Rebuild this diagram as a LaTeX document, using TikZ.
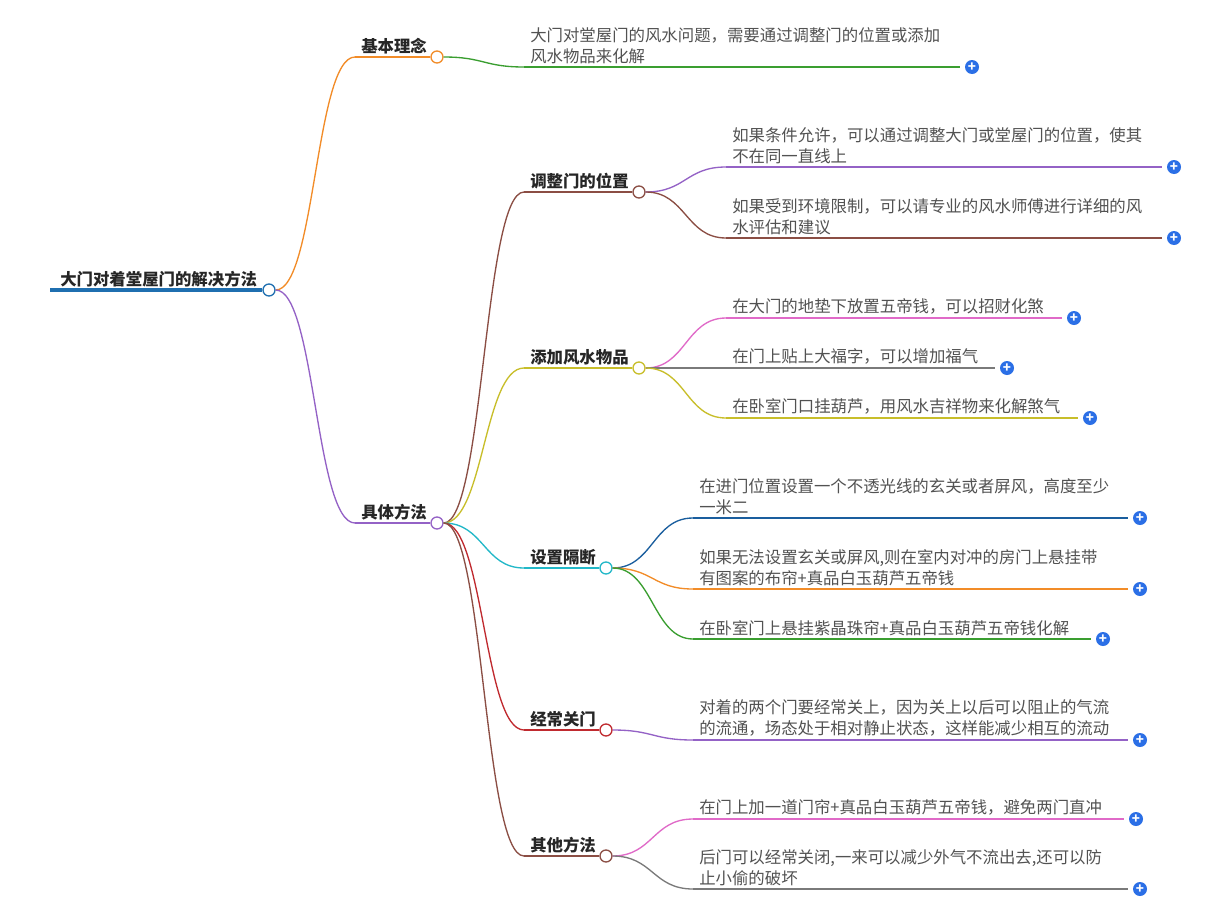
\documentclass[tikz,border=0pt]{standalone}
\usepackage{fontspec}
\setmainfont{Noto Sans CJK SC}
\usetikzlibrary{calc}
\definecolor{cOr}{HTML}{F28C28}\definecolor{cGr}{HTML}{3A9E30}\definecolor{cPu}{HTML}{9462C6}
\definecolor{cBr}{HTML}{8B4E44}\definecolor{cOl}{HTML}{C8BE2A}\definecolor{cCy}{HTML}{22B8C8}
\definecolor{cDb}{HTML}{1A5E9E}\definecolor{cRe}{HTML}{C02A2F}\definecolor{cPk}{HTML}{E06AC8}
\definecolor{cGy}{HTML}{7A7A7A}\definecolor{cRoot}{HTML}{1F6FB0}\definecolor{cPl}{HTML}{2B6FE6}
\tikzset{
 leaftext/.style={anchor=south west,inner sep=0pt,align=left,text=black!68,font=\fontsize{12.3}{15.75}\selectfont},
 maintext/.style={anchor=south west,inner sep=0pt,text=black!85,font=\bfseries\fontsize{12.3}{15.75}\selectfont},
 knob/.style={circle,draw=#1,fill=white,line width=1pt,minimum size=9pt,inner sep=0pt},
 plus/.style={circle,fill=cPl,minimum size=10.5pt,inner sep=0pt,text=white,font=\bfseries\fontsize{10}{10}\selectfont},
 conn/.style={line width=1pt}
}
\newcommand{\curv}[3]{\draw[conn,#1] let \p1=(#2), \p2=(#3) in (\p1) .. controls ({0.5*\x1+0.5*\x2},\y1) and ({0.5*\x1+0.5*\x2},\y2) .. (\p2);}
% id color parent xs y xe text
\newcommand{\leaf}[7]{%
 \coordinate (#1s) at (#4,#5); \coordinate (#1e) at (#6,#5);
 \curv{#2}{#3.east}{#1s}
 \draw[conn,#2] (#1s) -- (#1e);
 \node[leaftext] (#1t) at (#4+6,#5-3) {#7};
 \node[plus] (#1p) at (#6+12,#5) {+};}
% id color parent xs y xc text
\newcommand{\mainb}[7]{%
 \coordinate (#1s) at (#4,#5);
 \curv{#2}{#3.east}{#1s}
 \node[knob=#2] (#1) at (#6,#5) {};
 \draw[conn,#2] (#1s) -- (#1.west);
 \node[maintext] (#1t) at (#4+6,#5-3) {#7};}
\begin{document}
\begin{tikzpicture}[x=0.75pt,y=-0.75pt]
\useasboundingbox (0,0) rectangle (1213,914);
\fill[white] (0,0) rectangle (1213,914);
\node[knob=cRoot] (root) at (269,290) {};
\coordinate (rs) at (50,290);
\draw[cRoot,line width=2.5pt] (rs) -- (root.west);
\node[maintext] (roott) at (60,287) {大门对着堂屋门的解决方法};
\mainb{a}{cOr}{root}{355}{57}{437}{基本理念}
\mainb{b}{cPu}{root}{355}{523}{437}{具体方法}
\leaf{a1}{cGr}{a}{524}{67}{960}{大门对堂屋门的风水问题，需要通过调整门的位置或添加\\风水物品来化解}
\mainb{c}{cBr}{b}{524}{192}{639}{调整门的位置}
\mainb{d}{cOl}{b}{524}{368}{639}{添加风水物品}
\mainb{e}{cCy}{b}{524}{568}{606}{设置隔断}
\mainb{f}{cRe}{b}{524}{730}{606}{经常关门}
\mainb{g}{cBr}{b}{524}{856}{606}{其他方法}
\leaf{c1}{cPu}{c}{726}{167}{1162}{如果条件允许，可以通过调整大门或堂屋门的位置，使其\\不在同一直线上}
\leaf{c2}{cBr}{c}{726}{238}{1162}{如果受到环境限制，可以请专业的风水师傅进行详细的风\\水评估和建议}
\leaf{d1}{cPk}{d}{726}{318}{1062}{在大门的地垫下放置五帝钱，可以招财化煞}
\leaf{d2}{cGy}{d}{726}{368}{995}{在门上贴上大福字，可以增加福气}
\leaf{d3}{cOl}{d}{726}{418}{1078}{在卧室门口挂葫芦，用风水吉祥物来化解煞气}
\leaf{e1}{cDb}{e}{693}{518}{1128}{在进门位置设置一个不透光线的玄关或者屏风，高度至少\\一米二}
\leaf{e2}{cOr}{e}{693}{589}{1128}{如果无法设置玄关或屏风,则在室内对冲的房门上悬挂带\\有图案的布帘+真品白玉葫芦五帝钱}
\leaf{e3}{cGr}{e}{693}{639}{1091}{在卧室门上悬挂紫晶珠帘+真品白玉葫芦五帝钱化解}
\leaf{f1}{cPu}{f}{693}{740}{1128}{对着的两个门要经常关上，因为关上以后可以阻止的气流\\的流通，场态处于相对静止状态，这样能减少相互的流动}
\leaf{g1}{cPk}{g}{693}{819}{1124}{在门上加一道门帘+真品白玉葫芦五帝钱，避免两门直冲}
\leaf{g2}{cGy}{g}{693}{889}{1128}{后门可以经常关闭,一来可以减少外气不流出去,还可以防\\止小偷的破坏}
\end{tikzpicture}
\end{document}
